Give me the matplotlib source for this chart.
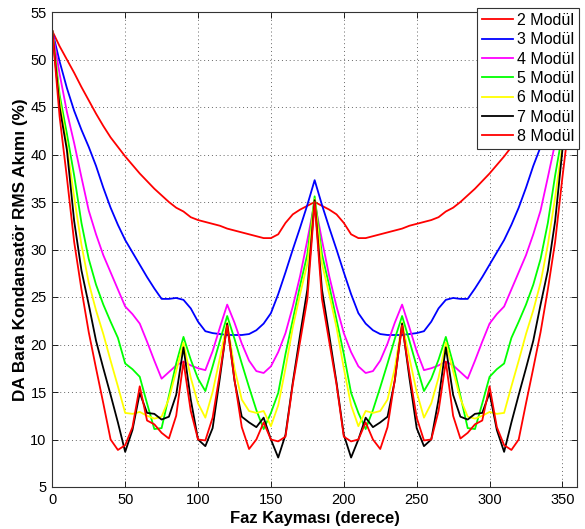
import matplotlib
matplotlib.use("Agg")
import matplotlib.pyplot as plt

plt.rcParams['font.family'] = ['Liberation Sans', 'DejaVu Sans']

phase = list(range(0, 361, 5))

m2 = [53.0, 51.4, 50.0, 48.6, 47.1, 45.7, 44.3, 43.0, 41.8, 40.8, 39.8, 38.9, 38.0, 37.2, 36.4, 35.7, 35.0, 34.4, 34.0,
      33.4, 33.1, 32.9, 32.7, 32.5, 32.2, 32.0, 31.8, 31.6, 31.4, 31.2, 31.2, 31.6, 32.8, 33.7, 34.2, 34.6, 35.0,
      34.6, 34.2, 33.7, 32.8, 31.6, 31.2, 31.2, 31.4, 31.6, 31.8, 32.0, 32.2, 32.5, 32.7, 32.9, 33.1, 33.4, 34.0,
      34.4, 35.0, 35.7, 36.4, 37.2, 38.0, 38.9, 39.8, 40.8, 41.8, 43.0, 44.3, 45.7, 47.1, 48.6, 50.0, 51.4, 53.0]

m3 = [53.0, 49.8, 47.0, 44.6, 42.6, 40.8, 38.8, 36.5, 34.4, 32.6, 31.0, 29.7, 28.4, 27.1, 25.9, 24.8, 24.8, 24.9, 24.7,
      23.8, 22.4, 21.4, 21.2, 21.1, 21.0, 21.0, 21.0, 21.1, 21.5, 22.2, 23.3, 25.3, 27.6, 30.0, 32.3, 34.7, 37.3,
      34.7, 32.3, 30.0, 27.6, 25.3, 23.3, 22.2, 21.5, 21.1, 21.0, 21.0, 21.0, 21.1, 21.2, 21.4, 22.4, 23.8, 24.7,
      24.9, 24.8, 24.8, 25.9, 27.1, 28.4, 29.7, 31.0, 32.6, 34.4, 36.5, 38.8, 40.8, 42.6, 44.6, 47.0, 49.8, 53.0]

m4 = [53.0, 48.5, 44.5, 41.2, 37.6, 34.1, 31.6, 29.4, 27.6, 25.8, 24.0, 23.2, 22.2, 20.3, 18.3, 16.4, 17.1, 17.8, 18.2,
      17.8, 17.5, 17.3, 19.3, 21.8, 24.2, 22.3, 20.1, 18.3, 17.2, 17.0, 17.7, 19.2, 21.2, 24.0, 27.2, 31.0, 35.0,
      31.0, 27.2, 24.0, 21.2, 19.2, 17.7, 17.0, 17.2, 18.3, 20.1, 22.3, 24.2, 21.8, 19.3, 17.3, 17.5, 17.8, 18.2,
      17.8, 17.1, 16.4, 18.3, 20.3, 22.2, 23.2, 24.0, 25.8, 27.6, 29.4, 31.6, 34.1, 37.6, 41.2, 44.5, 48.5, 53.0]

m5 = [53.0, 46.3, 42.2, 37.8, 32.8, 29.0, 26.3, 24.2, 22.4, 20.7, 18.0, 17.4, 16.6, 13.8, 11.1, 11.2, 14.6, 18.0, 20.8,
      18.4, 16.4, 15.1, 17.7, 20.4, 23.0, 20.6, 18.0, 15.5, 13.1, 11.1, 12.8, 14.9, 19.0, 22.6, 26.2, 29.5, 35.6,
      29.5, 26.2, 22.6, 19.0, 14.9, 12.8, 11.1, 13.1, 15.5, 18.0, 20.6, 23.0, 20.4, 17.7, 15.1, 16.4, 18.4, 20.8,
      18.0, 14.6, 11.2, 11.1, 13.8, 16.6, 17.4, 18.0, 20.7, 22.4, 24.2, 26.3, 29.0, 32.8, 37.8, 42.2, 46.3, 53.0]

m6 = [53.0, 45.7, 41.0, 35.5, 30.5, 26.5, 23.6, 21.1, 18.3, 15.6, 12.8, 12.7, 12.9, 12.5, 12.2, 12.4, 14.3, 17.2, 20.2,
      16.5, 13.8, 12.3, 15.0, 18.6, 22.3, 17.5, 14.2, 13.0, 12.8, 13.0, 11.4, 13.6, 17.5, 21.8, 25.3, 28.5, 35.3,
      28.5, 25.3, 21.8, 17.5, 13.6, 11.4, 13.0, 12.8, 13.0, 14.2, 17.5, 22.3, 18.6, 15.0, 12.3, 13.8, 16.5, 20.2,
      17.2, 14.3, 12.4, 12.2, 12.5, 12.9, 12.7, 12.8, 15.6, 18.3, 21.1, 23.6, 26.5, 30.5, 35.5, 41.0, 45.7, 53.0]

m7 = [53.0, 45.0, 40.5, 33.0, 27.8, 24.2, 20.4, 17.5, 14.7, 11.8, 8.7, 11.0, 14.9, 12.8, 12.7, 12.1, 12.4, 14.7, 19.7,
      14.2, 10.0, 9.3, 11.2, 16.5, 22.2, 16.2, 12.4, 11.8, 11.3, 12.3, 10.0, 8.1, 10.5, 16.0, 21.0, 25.8, 35.2,
      25.8, 21.0, 16.0, 10.5, 8.1, 10.0, 12.3, 11.3, 11.8, 12.4, 16.2, 22.2, 16.5, 11.2, 9.3, 10.0, 14.2, 19.7,
      14.7, 12.4, 12.1, 12.7, 12.8, 14.9, 11.0, 8.7, 11.8, 14.7, 17.5, 20.4, 24.2, 27.8, 33.0, 40.5, 45.0, 53.0]

m8 = [53.0, 44.0, 37.6, 30.8, 25.8, 21.3, 17.5, 13.8, 10.0, 8.9, 9.4, 11.3, 15.6, 12.0, 11.6, 10.7, 10.1, 12.5, 18.2,
      13.0, 10.0, 9.9, 12.3, 17.0, 22.0, 16.3, 11.3, 9.0, 10.0, 11.8, 10.0, 9.8, 10.3, 15.8, 20.3, 24.8, 35.0,
      24.8, 20.3, 15.8, 10.3, 9.8, 10.0, 11.8, 10.0, 9.0, 11.3, 16.3, 22.0, 17.0, 12.3, 9.9, 10.0, 13.0, 18.2,
      12.5, 10.1, 10.7, 11.6, 12.0, 15.6, 11.3, 9.4, 8.9, 10.0, 13.8, 17.5, 21.3, 25.8, 30.8, 37.6, 44.0, 53.0]

series = [m2, m3, m4, m5, m6, m7, m8]
labels = ['2 Modül', '3 Modül', '4 Modül', '5 Modül', '6 Modül', '7 Modül', '8 Modül']
colors = ['#ff0000', '#0000ff', '#ff00ff', '#00ff00', '#ffff00', '#000000', '#ff0000']

x_ticks = list(range(0, 351, 50))
y_ticks = list(range(5, 56, 5))

fig = plt.figure(figsize=(5.85, 5.29), dpi=100)
ax = fig.add_axes([52.3 / 585, 42 / 529, (577 - 52.3) / 585, (487 - 12) / 529])

for ys, lab, c in zip(series, labels, colors):
    ax.plot(phase, ys, color=c, lw=1.3, label=lab)

ax.set_xlim(0, 360)
ax.set_ylim(5, 55)
ax.set_xticks(x_ticks)
ax.set_yticks(y_ticks)
ax.tick_params(direction='in', top=True, right=True, length=4, labelsize=10.5, width=0.6, pad=4)
ax.grid(True, linestyle=(0, (1, 3)), color='#666666', lw=0.7)
for s in ax.spines.values():
    s.set_linewidth(0.8)
    s.set_color('#333333')

ax.set_xlabel('Faz Kayması (derece)', fontsize=12, fontweight='bold', labelpad=3)
ax.set_ylabel('DA Bara Kondansatör RMS Akımı (%)', fontsize=12.3, fontweight='bold', labelpad=2)

leg = ax.legend(loc='upper right', bbox_to_anchor=(1.004, 1.008), borderaxespad=0, fancybox=False,
                framealpha=1, edgecolor='#333333', fontsize=11.5, handlelength=1.95, labelspacing=0.27,
                handletextpad=0.25, borderpad=0.3)
leg.get_frame().set_linewidth(0.8)

fig.savefig('out.png', dpi=100)
